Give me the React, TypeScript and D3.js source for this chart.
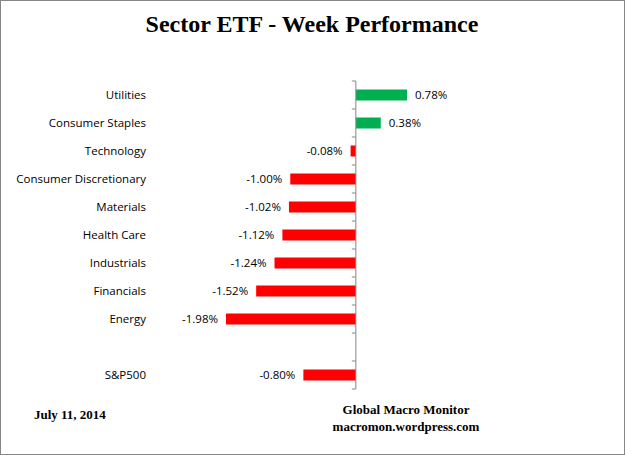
import React from 'react';
import * as d3 from 'd3';

const sectors = ['Utilities', 'Consumer Staples', 'Technology', 'Consumer Discretionary', 'Materials',
  'Health Care', 'Industrials', 'Financials', 'Energy', '', 'S&P500'];
const weekReturns = [0.78, 0.38, -0.08, -1.0, -1.02, -1.12, -1.24, -1.52, -1.98, null, -0.8];

const W = 625;
const H = 455;

const App: React.FC = () => {
  const x = d3.scaleLinear().domain([-1.98, 0.78]).range([226, 407]);
  const y = d3.scaleBand<string>()
    .domain(sectors.map((s, i) => `${i}`))
    .range([81, 389]);
  const barH = 11;
  const zeroX = x(0);

  return (
    <>
      <style>{'body{margin:0}'}</style>
      <svg width={W} height={H} style={{ display: 'block' }}>
        <rect x={0.5} y={0.5} width={W - 1} height={H - 1} fill="#fff" stroke="#868686" />
        <text x={312} y={32} textAnchor="middle" fontFamily="Liberation Serif" fontWeight="bold" fontSize={24}>
          Sector ETF - Week Performance
        </text>

        {sectors.map((s, i) => {
          const v = weekReturns[i];
          const cy = (y(`${i}`) as number) + y.bandwidth() / 2;
          return (
            <g key={i}>
              {s && (
                <text x={146} y={cy} dy="0.35em" textAnchor="end" fontFamily="Open Sans, Liberation Sans" fontSize={11.5} fill="#000">
                  {s}
                </text>
              )}
              {v !== null && (
                <>
                  <rect
                    x={Math.min(x(v), zeroX)}
                    y={cy - barH / 2}
                    width={Math.abs(x(v) - zeroX)}
                    height={barH}
                    fill={v >= 0 ? '#00b050' : '#ff0000'}
                  />
                  <text
                    x={v >= 0 ? x(v) + 8 : x(v) - 8}
                    y={cy}
                    dy="0.35em"
                    textAnchor={v >= 0 ? 'start' : 'end'}
                    fontFamily="Open Sans, Liberation Sans"
                    fontSize={11.5}
                  >
                    {`${v.toFixed(2)}%`}
                  </text>
                </>
              )}
            </g>
          );
        })}

        <line x1={zeroX} x2={zeroX} y1={81} y2={389} stroke="#868686" />
        {d3.range(sectors.length + 1).map(i => {
          const ty = 81 + i * y.step();
          return <line key={i} x1={zeroX - 4} x2={zeroX} y1={ty} y2={ty} stroke="#868686" />;
        })}

        <text x={34} y={419} fontFamily="Liberation Serif" fontWeight="bold" fontSize={13}>July 11, 2014</text>
        <text x={406} y={414} textAnchor="middle" fontFamily="Liberation Serif" fontWeight="bold" fontSize={13}>Global Macro Monitor</text>
        <text x={406} y={431} textAnchor="middle" fontFamily="Liberation Serif" fontWeight="bold" fontSize={13}>macromon.wordpress.com</text>
      </svg>
    </>
  );
};

export default App;
